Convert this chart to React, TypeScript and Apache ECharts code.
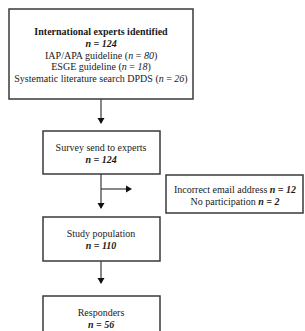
import React, { useEffect, useRef } from "react";
import * as echarts from "echarts";

const titles = ["International experts identified", "Survey send to experts", "Study population", "Responders"];
const counts = [124, 124, 110, 56];
const sources = ["IAP/APA guideline", "ESGE guideline", "Systematic literature search DPDS"];
const sourceCounts = [80, 18, 26];
const exclusions = ["Incorrect email address", "No participation"];
const exclusionCounts = [12, 2];

const FONT = "'Liberation Serif', 'DejaVu Serif', serif";
const FS = 10;
const LINE = "#3a3a3a";
const TXT = "#1a1a1a";

const rich = {
  b: { fontFamily: FONT, fontSize: FS, fontWeight: "bold", fill: TXT, color: TXT },
  bi: { fontFamily: FONT, fontSize: FS, fontWeight: "bold", fontStyle: "italic", fill: TXT, color: TXT },
  i: { fontFamily: FONT, fontSize: FS, fontStyle: "italic", fill: TXT, color: TXT },
  r: { fontFamily: FONT, fontSize: FS, fill: TXT, color: TXT },
};

function txt(x: number, y: number, text: string) {
  return {
    type: "text",
    x,
    y,
    style: {
      text,
      rich,
      fontFamily: FONT,
      fontSize: FS,
      fill: TXT,
      align: "center",
      verticalAlign: "middle",
      textAlign: "center",
      textVerticalAlign: "middle",
    },
  };
}

function box(x: number, y: number, w: number, h: number) {
  return {
    type: "rect",
    shape: { x, y, width: w, height: h },
    style: { fill: "#fff", stroke: LINE, lineWidth: 1.5 },
  };
}

function line(x1: number, y1: number, x2: number, y2: number) {
  return {
    type: "line",
    shape: { x1, y1, x2, y2 },
    style: { stroke: LINE, lineWidth: 1.2 },
  };
}

function arrowDown(x: number, tipY: number) {
  return {
    type: "polygon",
    shape: { points: [[x - 3.5, tipY - 6], [x + 3.5, tipY - 6], [x, tipY]] },
    style: { fill: "#111" },
  };
}

function arrowRight(tipX: number, y: number) {
  return {
    type: "polygon",
    shape: { points: [[tipX - 6, y - 3.5], [tipX - 6, y + 3.5], [tipX, y]] },
    style: { fill: "#111" },
  };
}

export default function App() {
  const ref = useRef<HTMLDivElement>(null);
  useEffect(() => {
    if (!ref.current) return;
    const chart = echarts.init(ref.current, undefined, { renderer: "svg" });
    const cx = 101;
    const elements: any[] = [];
    // Boxes
    elements.push(box(9, 9, 184, 90));
    elements.push(box(43, 131, 117, 43));
    elements.push(box(43, 217, 117, 44));
    elements.push(box(43, 296, 117, 46));
    elements.push(box(166, 175, 137, 38));
    // connectors
    elements.push(line(cx, 99, cx, 123), arrowDown(cx, 124));
    elements.push(line(cx, 174, cx, 208), arrowDown(cx, 209));
    elements.push(line(cx, 189, 130, 189), arrowRight(132, 189));
    elements.push(line(cx, 261, cx, 283), arrowDown(cx, 284));
    // box 1 text
    elements.push(txt(cx, 31, `{b|${titles[0]}}`));
    elements.push(txt(cx, 43, `{bi|n = ${counts[0]}}`));
    sources.forEach((s, k) => {
      elements.push(txt(cx, 55 + k * 11.5, `{r|${s} (}{i|n}{r| = }{i|${sourceCounts[k]}}{r|)}`));
    });
    // other boxes
    const ys = [[147, 159], [233, 245], [312, 324]];
    for (let k = 1; k < 4; k++) {
      elements.push(txt(cx, ys[k - 1][0], `{r|${titles[k]}}`));
      elements.push(txt(cx, ys[k - 1][1], `{bi|n = ${counts[k]}}`));
    }
    exclusions.forEach((s, k) => {
      elements.push(txt(235, 189.5 + k * 11.5, `{r|${s} }{bi|n = ${exclusionCounts[k]}}`));
    });
    chart.setOption({
      animation: false,
      backgroundColor: "#ffffff",
      graphic: { elements },
    });
    return () => chart.dispose();
  }, []);
  return (
    <div
      ref={ref}
      style={{ position: "fixed", left: 0, top: 0, width: 305, height: 331, background: "#fff" }}
    />
  );
}
